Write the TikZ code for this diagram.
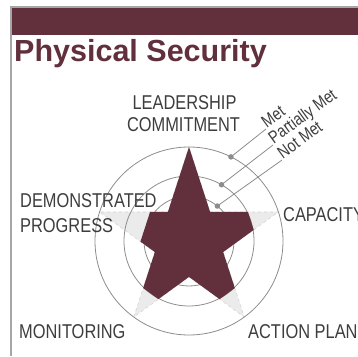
\documentclass[tikz,border=0pt]{standalone}
\usepackage{fontspec}
\usetikzlibrary{calc}
\setmainfont{Liberation Sans}
\newfontfamily\lblfont[FakeStretch=0.82]{Liberation Sans}
\definecolor{maroon}{HTML}{62303D}
\definecolor{txt}{HTML}{3D3D3D}
\definecolor{ring}{HTML}{8C8C8C}
\definecolor{bord}{HTML}{A6A6A6}
\definecolor{ghost}{HTML}{EBEBEB}
\definecolor{ghostline}{HTML}{D4D4D4}
\tikzset{
  lbl/.style={anchor=base west, inner sep=0pt, text=txt, font=\lblfont\fontsize{20}{24}\selectfont},
  lvl/.style={anchor=base west, inner sep=1pt, text=txt, rotate=36, font=\lblfont\fontsize{17.5}{20}\selectfont},
  ringline/.style={draw=ring, line width=0.8pt},
  dot/.style={circle, fill=ring, inner sep=0pt, minimum size=5.5pt},
  leader/.style={draw=ring, line width=0.8pt}
}
\begin{document}
\begin{tikzpicture}[x=1pt,y=1pt]
\useasboundingbox (0,0) rectangle (358,356);
% frame and header bar
\fill[bord] (10,0) rectangle (12,350);
\fill[bord] (10,348) rectangle (358,350);
\fill[maroon] (12,321) rectangle (358,348);
\node[anchor=base west, inner sep=0pt, text=maroon, font=\bfseries\fontsize{30.5}{34}\selectfont] (title) at (14,294) {Physical Security};
% star geometry
\coordinate (C) at (189,115);
\begin{scope}[shift={(189,115)}]
\foreach \k/\d in {0/94,1/46,2/65,3/65,4/65}{
  \pgfmathsetmacro\h{21.10*(94-\d)/64.95}
  \pgfmathsetmacro\a{90+72*\k}
  \pgfmathsetmacro\b{atan(\h/\d)}
  \pgfmathsetmacro\r{sqrt(\d*\d+\h*\h)}
  \coordinate (s\k a) at ({\a-\b}:\r);
  \coordinate (s\k b) at ({\a+\b}:\r);
  \coordinate (i\k) at ({\a+36}:35.9);
  \coordinate (g\k) at (\a:94);
}
\end{scope}
% ghost (full) star
\filldraw[fill=ghost, draw=ghostline, dashed, line width=0.6pt]
  (g0) -- (i0) -- (g1) -- (i1) -- (g2) -- (i2) -- (g3) -- (i3) -- (g4) -- (i4) -- cycle;
% rings
\draw[ringline] (C) circle (94);
\draw[ringline] (C) circle (65);
\draw[ringline] (C) circle (45);
% score star
\fill[maroon] (s0a) -- (s0b) -- (i0) -- (s1a) -- (s1b) -- (i1) -- (s2a) -- (s2b) -- (i2)
  -- (s3a) -- (s3b) -- (i3) -- (s4a) -- (s4b) -- (i4) -- cycle;
% level markers
\node[dot] (dmet) at ($(C)+(63.5:94)$) {};
\node[dot] (dpart) at ($(C)+(60:65)$) {};
\node[dot] (dnot) at ($(C)+(51:45)$) {};
\coordinate (emet) at (266,227);
\coordinate (epart) at (273,211);
\coordinate (enot) at (282,196);
\draw[leader] (dmet.center) -- (emet);
\draw[leader] (dpart.center) -- (epart);
\draw[leader] (dnot.center) -- (enot);
\node[lvl] (tmet) at (emet) {Met};
\node[lvl] (tpart) at (epart) {Partially Met};
\node[lvl] (tnot) at (enot) {Not Met};
% labels
\node[lbl, anchor=base] (lead) at (184.5,246) {LEADERSHIP};
\node[lbl, anchor=base] (comm) at (183.5,224) {COMMITMENT};
\node[lbl] (demo) at (20,148) {DEMONSTRATED};
\node[lbl] (prog) at (20,124) {PROGRESS};
\node[lbl] (cap) at (283,134) {CAPACITY};
\node[lbl] (mon) at (19,18) {MONITORING};
\node[lbl] (act) at (248,18) {ACTION PLAN};
\end{tikzpicture}
\end{document}
